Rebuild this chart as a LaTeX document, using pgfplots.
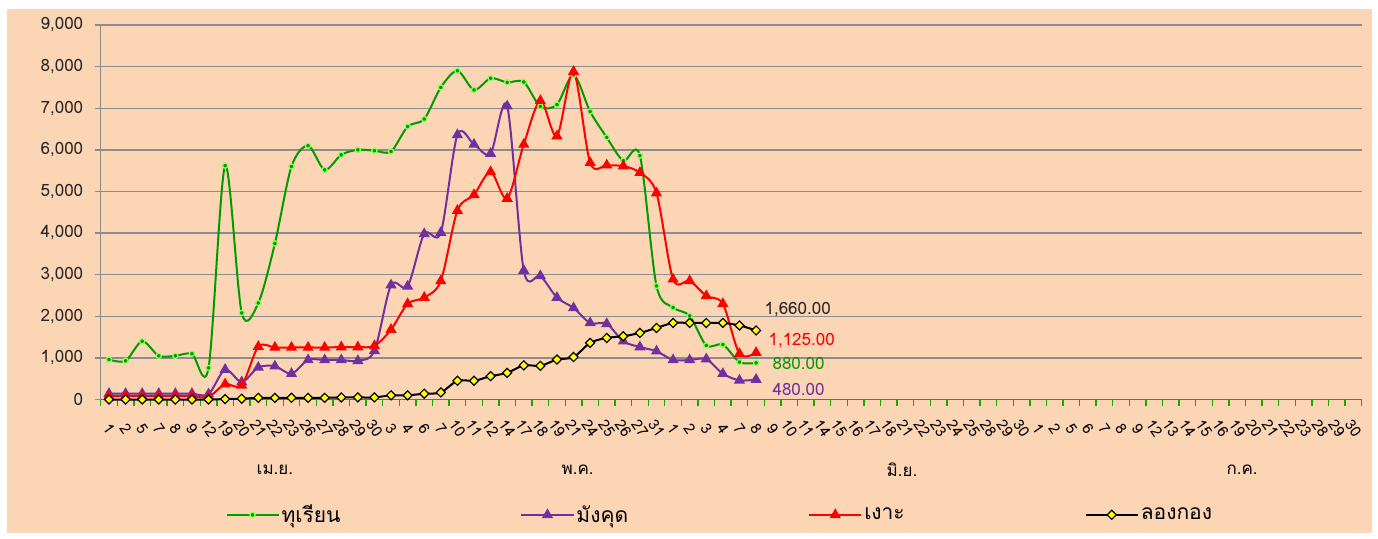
\documentclass[border=0pt]{standalone}
\usepackage{fontspec}
\setmainfont{Loma}[Script=Thai]
\usepackage{pgfplots}
\pgfplotsset{compat=1.18}
\usepackage{pgfplotstable}
\definecolor{bgpeach}{RGB}{252,213,180}
\definecolor{durgreen}{RGB}{0,155,0}
\definecolor{durlight}{RGB}{140,255,90}
\definecolor{mangpurple}{RGB}{112,48,160}
\definecolor{gridgray}{RGB}{140,140,140}
\definecolor{axisgreen}{RGB}{20,170,0}
\definecolor{markyellow}{RGB}{255,255,0}

\pgfplotstableread{
x D M R L
0 960 140 80 0
1 930 140 80 0
2 1400 140 80 0
3 1050 140 80 0
4 1050 140 80 0
5 1100 140 80 0
6 760 130 60 0
7 5620 720 370 10
8 2080 420 340 20
9 2320 770 1270 40
10 3750 800 1250 40
11 5600 620 1250 40
12 6100 950 1250 40
13 5520 950 1250 40
14 5880 950 1260 50
15 6000 930 1260 50
16 5980 1170 1290 50
17 5960 2750 1680 100
18 6560 2720 2300 100
19 6740 3980 2450 140
20 7500 4010 2850 170
21 7900 6360 4540 450
22 7440 6130 4920 450
23 7720 5910 5470 560
24 7620 7050 4830 640
25 7630 3100 6130 820
26 7040 2970 7180 810
27 7090 2450 6330 960
28 7800 2200 7880 1020
29 6920 1840 5690 1360
30 6300 1820 5630 1480
31 5740 1400 5610 1520
32 5860 1260 5450 1600
33 2730 1160 4960 1720
34 2210 950 2890 1840
35 2010 950 2850 1840
36 1300 970 2490 1840
37 1320 620 2300 1840
38 900 460 1100 1780
39 880 480 1125 1660
}\datatable

\begin{document}
\begin{tikzpicture}[x=1pt,y=1pt]
\useasboundingbox (0,0) rectangle (1378,538);
\fill[white] (0,0) rectangle (1378,538);
\fill[bgpeach] (7,5) rectangle (1372,529);
\begin{axis}[
  at={(100.7pt,138.5pt)}, anchor=south west,
  scale only axis, width=1261pt, height=374.5pt,
  xmin=-0.5, xmax=75.5, ymin=0, ymax=9000,
  clip=false,
  axis lines=left, axis line style={-},
  x axis line style={axisgreen, line width=1.6pt},
  y axis line style={gridgray, line width=1.4pt},
  ytick={0,1000,...,9000},
  ymajorgrids, major grid style={gridgray, line width=1.4pt},
  tick align=outside,
  major tick length=6pt, minor tick length=6pt,
  y tick style={gridgray, line width=1.4pt},
  major x tick style={draw=none},
  minor x tick style={axisgreen, line width=1.4pt},
  xtick={0,...,75},
  minor xtick={-0.5,0.5,...,75.5},
  xticklabels={1,2,5,7,8,9,12,19,20,21,22,23,26,27,28,29,30,
    3,4,6,7,10,11,12,14,17,18,19,21,24,25,26,27,31,
    1,2,3,4,7,8,9,10,11,14,15,16,17,18,21,22,23,24,25,28,29,30,
    1,2,5,6,7,8,9,12,13,14,15,16,19,20,21,22,23,28,29,30},
  xticklabel style={yshift=-23pt, rotate=-55, anchor=center, inner sep=0pt,
    font=\fontsize{15}{15}\selectfont},
  yticklabel style={xshift=-8pt, font=\fontsize{17}{17}\selectfont, text=black!85},
  /pgf/number format/assume math mode=true,
  /pgf/number format/.cd, 1000 sep={,}, /pgfplots/.cd,
  legend columns=4,
  legend style={at={(0.491,-0.308)}, anchor=center, draw=none, fill=none,
    font=\fontsize{21}{21}\selectfont,
    /tikz/every even column/.append style={column sep=178pt}},
  legend image code/.code={%
    \draw[mark repeat=2,mark phase=2,#1] plot coordinates {(0pt,0pt) (26pt,0pt) (52pt,0pt)};},
]
\addplot[durgreen, line width=2pt, smooth, tension=0.5, mark=*, mark size=2.6pt,
  mark options={draw=durlight, fill=durgreen, line width=1.3pt}]
  table[x=x,y=D]{\datatable};
\addlegendentry{ทุเรียน}
\addplot[mangpurple, line width=2pt, smooth, tension=0.5, mark=triangle*, mark size=4.5pt,
  mark options={fill=mangpurple}]
  table[x=x,y=M]{\datatable};
\addlegendentry{มังคุด}
\addplot[red, line width=2pt, smooth, tension=0.5, mark=triangle*, mark size=4.5pt,
  mark options={fill=red}]
  table[x=x,y=R]{\datatable};
\addlegendentry{เงาะ}
\addplot[black, line width=2pt, smooth, tension=0.5, mark=square*, mark size=3.2pt,
  mark options={rotate=45, fill=markyellow, draw=black, line width=1.2pt}]
  table[x=x,y=L]{\datatable};
\addlegendentry{ลองกอง}

\node[anchor=west, font=\fontsize{17}{17}\selectfont, text=black!85] at (axis cs:39,1660) [xshift=5pt, yshift=21pt] {1,660.00};
\node[anchor=west, font=\fontsize{17}{17}\selectfont, text=red] at (axis cs:39,1125) [xshift=9pt, yshift=12pt] {1,125.00};
\node[anchor=west, font=\fontsize{17}{17}\selectfont, text=durgreen] at (axis cs:39,880) [xshift=13pt, yshift=-1pt] {880.00};
\node[anchor=west, font=\fontsize{17}{17}\selectfont, text=mangpurple] at (axis cs:39,480) [xshift=13pt, yshift=-10pt] {480.00};

\node[font=\fontsize{17}{17}\selectfont] at (axis cs:10,0) [yshift=-70.5pt] {เม.ย.};
\node[font=\fontsize{17}{17}\selectfont] at (axis cs:28.25,0) [yshift=-70.5pt] {พ.ค.};
\node[font=\fontsize{17}{17}\selectfont] at (axis cs:47.8,0) [yshift=-70.5pt] {มิ.ย.};
\node[font=\fontsize{17}{17}\selectfont] at (axis cs:68.3,0) [yshift=-70.5pt] {ก.ค.};
\end{axis}
\end{tikzpicture}
\end{document}
